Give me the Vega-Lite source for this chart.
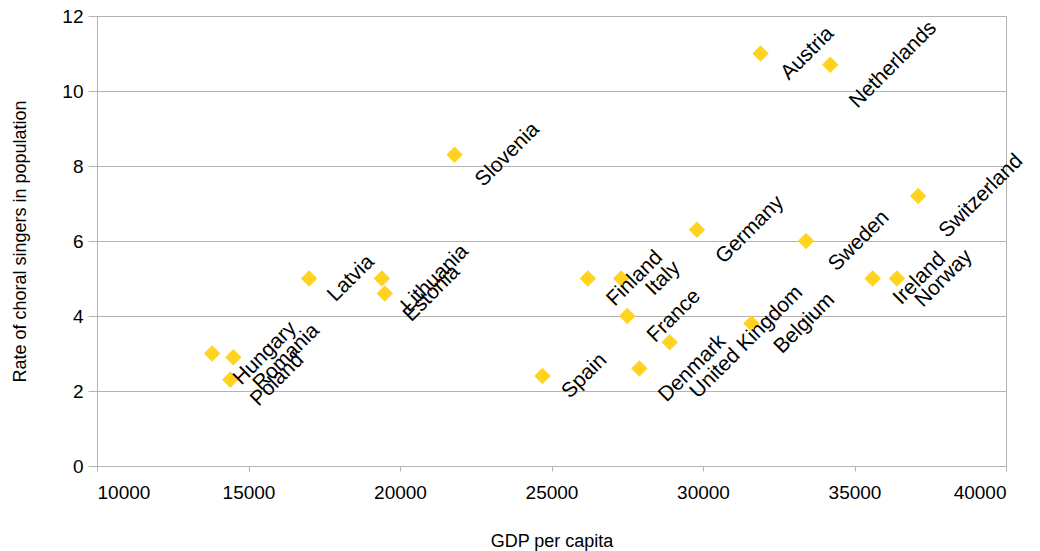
{
  "$schema": "https://vega.github.io/schema/vega-lite/v6.json",
  "autosize": "none",
  "width": 909,
  "height": 450,
  "padding": {"left": 97, "top": 16, "right": 34, "bottom": 85},
  "background": "white",
  "config": {
    "font": "Liberation Sans",
    "view": {"stroke": "#b3b3b3", "strokeWidth": 1},
    "text": {"angle": -45, "align": "center", "baseline": "middle", "fontSize": 21, "color": "#000000"}
  },
  "data": {
    "values": [
      {"country": "Hungary", "gdp": 13800, "rate": 3.0},
      {"country": "Romania", "gdp": 14500, "rate": 2.9},
      {"country": "Poland", "gdp": 14400, "rate": 2.3},
      {"country": "Latvia", "gdp": 17000, "rate": 5.0},
      {"country": "Lithuania", "gdp": 19400, "rate": 5.0},
      {"country": "Estonia", "gdp": 19500, "rate": 4.6},
      {"country": "Slovenia", "gdp": 21800, "rate": 8.3},
      {"country": "Spain", "gdp": 24700, "rate": 2.4},
      {"country": "Finland", "gdp": 26200, "rate": 5.0},
      {"country": "Italy", "gdp": 27300, "rate": 5.0},
      {"country": "France", "gdp": 27500, "rate": 4.0},
      {"country": "Denmark", "gdp": 27900, "rate": 2.6},
      {"country": "United Kingdom", "gdp": 28900, "rate": 3.3},
      {"country": "Germany", "gdp": 29800, "rate": 6.3},
      {"country": "Belgium", "gdp": 31600, "rate": 3.8},
      {"country": "Austria", "gdp": 31900, "rate": 11.0},
      {"country": "Sweden", "gdp": 33400, "rate": 6.0},
      {"country": "Netherlands", "gdp": 34200, "rate": 10.7},
      {"country": "Ireland", "gdp": 35600, "rate": 5.0},
      {"country": "Norway", "gdp": 36400, "rate": 5.0},
      {"country": "Switzerland", "gdp": 37100, "rate": 7.2}
    ]
  },
  "encoding": {
    "x": {
      "field": "gdp", "type": "quantitative",
      "scale": {"domain": [10000, 40000], "nice": false, "zero": false},
      "axis": {
        "title": "GDP per capita", "values": [10000, 15000, 20000, 25000, 30000, 35000, 40000],
        "format": "d", "grid": false,
        "domainColor": "#b3b3b3", "tickColor": "#b3b3b3", "tickSize": 5,
        "labelFontSize": 19, "labelColor": "#000000", "labelPadding": 12,
        "titleFontSize": 18, "titleFontWeight": "normal", "titleColor": "#000000", "titlePadding": 30
      }
    },
    "y": {
      "field": "rate", "type": "quantitative",
      "scale": {"domain": [0, 12], "nice": false},
      "axis": {
        "title": "Rate of choral singers in population", "values": [0, 2, 4, 6, 8, 10, 12],
        "grid": true, "gridColor": "#b3b3b3",
        "domainColor": "#b3b3b3", "tickColor": "#b3b3b3", "tickSize": 9,
        "labelFontSize": 19, "labelColor": "#000000", "labelPadding": 5,
        "titleFontSize": 18, "titleFontWeight": "normal", "titleColor": "#000000", "titlePadding": 32
      }
    }
  },
  "layer": [
    {
      "mark": {"type": "point", "shape": "diamond", "filled": true, "size": 270, "color": "#ffd320", "opacity": 1}
    },
    {
      "transform": [{"filter": {"field": "country", "oneOf": ["Italy", "Spain", "Latvia"]}}],
      "mark": {"type": "text", "dx": 29.7, "dy": 29.7},
      "encoding": {"text": {"field": "country"}}
    },
    {
      "transform": [{"filter": {"field": "country", "oneOf": ["Poland", "Ireland", "Norway", "Estonia", "France", "Austria", "Finland"]}}],
      "mark": {"type": "text", "dx": 33.2, "dy": 33.2},
      "encoding": {"text": {"field": "country"}}
    },
    {
      "transform": [{"filter": {"field": "country", "oneOf": ["Hungary", "Belgium", "Sweden", "Slovenia", "Romania", "Lithuania", "Germany", "Denmark"]}}],
      "mark": {"type": "text", "dx": 37.5, "dy": 37.5},
      "encoding": {"text": {"field": "country"}}
    },
    {
      "transform": [{"filter": {"field": "country", "oneOf": ["Switzerland", "Netherlands"]}}],
      "mark": {"type": "text", "dx": 44.5, "dy": 44.5},
      "encoding": {"text": {"field": "country"}}
    },
    {
      "transform": [{"filter": {"field": "country", "oneOf": ["United Kingdom"]}}],
      "mark": {"type": "text", "dx": 54.4, "dy": 54.4},
      "encoding": {"text": {"field": "country"}}
    },
    {
      "data": {"values": [{"label": "R² = 0,22"}]},
      "mark": {"type": "text", "angle": 0, "align": "left", "baseline": "middle", "fontSize": 19, "color": "#000000"},
      "encoding": {
        "x": {"datum": 13820, "type": "quantitative"},
        "y": {"datum": 11.05, "type": "quantitative"},
        "text": {"field": "label"}
      }
    }
  ]
}
